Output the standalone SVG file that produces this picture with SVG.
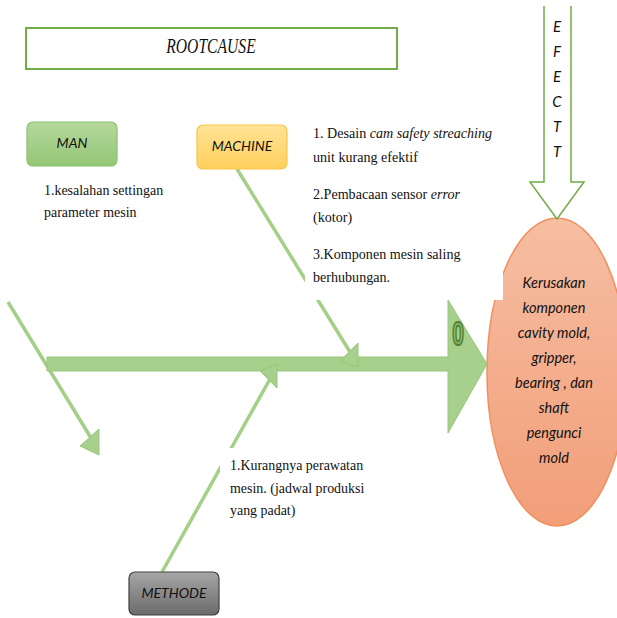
<svg xmlns="http://www.w3.org/2000/svg" width="617" height="618" viewBox="0 0 617 618">
<defs>
<linearGradient id="gGreen" x1="0" y1="0" x2="0" y2="1"><stop offset="0" stop-color="#b5d89c"/><stop offset="1" stop-color="#93c676"/></linearGradient>
<linearGradient id="gGold" x1="0" y1="0" x2="0" y2="1"><stop offset="0" stop-color="#ffe396"/><stop offset="1" stop-color="#ffcf5c"/></linearGradient>
<linearGradient id="gGrey" x1="0" y1="0" x2="0" y2="1"><stop offset="0" stop-color="#a6a6a6"/><stop offset="1" stop-color="#6b6b6b"/></linearGradient>
<linearGradient id="gOrange" x1="0" y1="0" x2="0" y2="1"><stop offset="0" stop-color="#f6bea2"/><stop offset="1" stop-color="#f29e79"/></linearGradient>
</defs>
<style>
.serif{font-family:"Liberation Serif","Times New Roman",serif;font-size:15px;fill:#111}
.cal{font-family:Lato,"Open Sans",sans-serif;font-style:italic;fill:#111}
.bone{stroke:#a3cf87;stroke-width:3.5;fill:none}
.head{fill:#a8d08d;stroke:#97c67a;stroke-width:1}
.box{stroke-width:1.2}
</style>

<g id="problem">
<ellipse cx="557" cy="372" rx="70" ry="154" fill="url(#gOrange)" stroke="#f0905f" stroke-width="1.5"/>
</g>

<g id="connectors">
<line class="bone" x1="8" y1="302" x2="91" y2="438"/>
<polygon class="head" points="99,429 99,455 80,446"/>
<line class="bone" x1="237" y1="169" x2="350" y2="352"/>
<line class="bone" x1="162" y1="572" x2="270" y2="379"/>
</g>

<g id="spine">
<path class="head" d="M47,357 H448 V300 L487,364 L448,433 V371 H47 Z"/>
<g transform="translate(458 345) scale(0.62 1)">
<text x="0" y="0" text-anchor="middle" style="font-family:'Liberation Sans',Arial,sans-serif;font-weight:bold;font-size:34px;fill:#8cc06a;stroke:#548235;stroke-width:2.2">0</text>
</g>
</g>

<g id="arrowheads">
<polygon class="head" points="358,343 358,367 340,361"/>
<polygon class="head" points="277,364 277,388 260,371"/>
</g>

<g id="rootcause">
<rect x="26" y="28" width="371" height="41" fill="#fff" stroke="#70ad47" stroke-width="2"/>
<g transform="translate(211 53) scale(0.92 1.2)">
<text x="0" y="0" text-anchor="middle" style="font-family:'Liberation Serif','Times New Roman',serif;font-style:italic;font-size:17px;fill:#111">ROOTCAUSE</text>
</g>
</g>

<g id="effect">
<path d="M544,6 V182 H530 L557,219 L584,182 H571 V6" fill="#fff" stroke="#70ad47" stroke-width="1.5"/>
<g class="cal" style="font-size:15px" text-anchor="middle">
<text x="557" y="32">E</text>
<text x="557" y="57">F</text>
<text x="557" y="82">E</text>
<text x="557" y="107">C</text>
<text x="557" y="132">T</text>
<text x="557" y="157">T</text>
</g>
</g>

<g id="man">
<rect class="box" x="27" y="122" width="90" height="44" rx="6" fill="url(#gGreen)" stroke="#8cbf6d"/>
<text class="cal" x="72" y="148" text-anchor="middle" style="font-size:14px">MAN</text>
<g transform="translate(44 0) scale(0.93 1) translate(-44 0)">
<text class="serif" x="44" y="195">1.kesalahan settingan</text>
<text class="serif" x="44" y="217">parameter mesin</text>
</g>
</g>

<g id="machine">
<rect class="box" x="197" y="125" width="90" height="44" rx="6" fill="url(#gGold)" stroke="#f6c64a"/>
<text class="cal" x="242" y="151" text-anchor="middle" style="font-size:14px">MACHINE</text>
<rect x="305" y="118" width="198" height="182" fill="#fff"/>
<g transform="translate(313 0) scale(0.94 1) translate(-313 0)">
<text class="serif" x="313" y="138">1. Desain <tspan font-style="italic">cam safety streaching</tspan></text>
<text class="serif" x="313" y="162">unit kurang efektif</text>
<text class="serif" x="313" y="199">2.Pembacaan sensor <tspan font-style="italic">error</tspan></text>
<text class="serif" x="313" y="222">(kotor)</text>
<text class="serif" x="313" y="259">3.Komponen mesin saling</text>
<text class="serif" x="313" y="282">berhubungan.</text>
</g>
</g>

<g id="methode">
<rect class="box" x="129" y="572" width="90" height="43" rx="6" fill="url(#gGrey)" stroke="#404040"/>
<text class="cal" x="174" y="598" text-anchor="middle" style="font-size:14px">METHODE</text>
<rect x="220" y="448" width="180" height="76" fill="#fff"/>
<g transform="translate(230 0) scale(0.93 1) translate(-230 0)">
<text class="serif" x="230" y="470">1.Kurangnya perawatan</text>
<text class="serif" x="230" y="493">mesin. (jadwal produksi</text>
<text class="serif" x="230" y="515">yang padat)</text>
</g>
</g>

<g id="problem-text" class="cal" style="font-size:14.5px" text-anchor="middle">
<text x="554" y="288">Kerusakan</text>
<text x="554" y="313">komponen</text>
<text x="554" y="338">cavity mold,</text>
<text x="554" y="363">gripper,</text>
<text x="554" y="388">bearing , dan</text>
<text x="554" y="413">shaft</text>
<text x="554" y="438">pengunci</text>
<text x="554" y="463">mold</text>
</g>
</svg>
